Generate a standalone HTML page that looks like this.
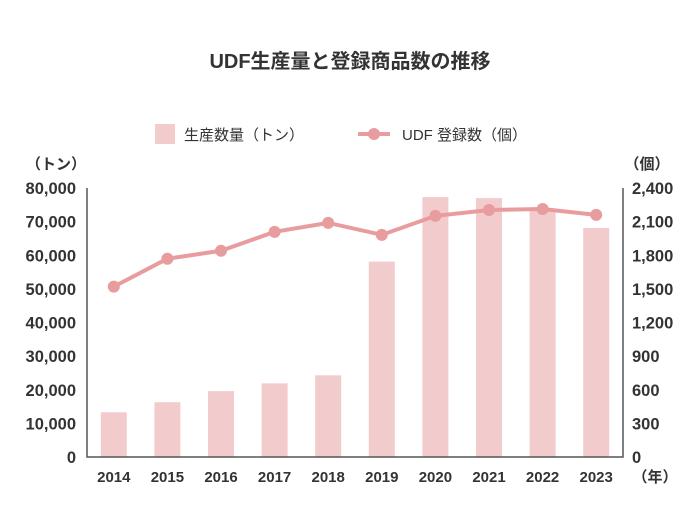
<!DOCTYPE html>
<html><head><meta charset="utf-8"><style>
body{margin:0;background:#fff;}
svg text{font-family:"Liberation Sans","Noto Sans CJK JP",sans-serif;fill:#333;}
</style></head><body>
<svg id="chart" width="700" height="525" viewBox="0 0 700 525" xmlns="http://www.w3.org/2000/svg">
<text x="350" y="68" text-anchor="middle" font-size="20" font-weight="bold">UDF生産量と登録商品数の推移</text>
<g>
<rect x="155" y="124" width="20" height="20" fill="#f2cccd"/>
<text x="184" y="140" font-size="15">生産数量（トン）</text>
<line x1="358" y1="134" x2="390" y2="134" stroke="#e89c9e" stroke-width="4"/>
<circle cx="374" cy="134" r="6" fill="#e89c9e"/>
<text x="402" y="140" font-size="15">UDF 登録数（個）</text>
</g>
<text x="56" y="169" text-anchor="middle" font-size="15" font-weight="bold">（トン）</text>
<text x="647" y="169" text-anchor="middle" font-size="15" font-weight="bold">（個）</text>
<text x="655" y="482" text-anchor="middle" font-size="15" font-weight="bold">（年）</text>
<g id="bars"></g><g id="line"></g><g id="axes"></g>
</svg>
<script>
const years=["2014","2015","2016","2017","2018","2019","2020","2021","2022","2023"];
const production=[13300,16300,19600,21900,24300,58100,77300,77000,73800,68100];
const registrations=[1520,1769,1840,2009,2089,1982,2151,2204,2213,2160];
const leftTicks=[0,10000,20000,30000,40000,50000,60000,70000,80000];
const rightTicks=[0,300,600,900,1200,1500,1800,2100,2400];
const NS="http://www.w3.org/2000/svg";
const x0=87,x1=623,y0=457,y1=188;
const yL=v=>y0-(v/80000)*(y0-y1);
const yR=v=>y0-(v/2400)*(y0-y1);
const band=(x1-x0)/years.length;
const xC=i=>x0+band*(i+0.5);
function mk(tag,attrs,parent){const e=document.createElementNS(NS,tag);for(const k in attrs)e.setAttribute(k,attrs[k]);parent.appendChild(e);return e;}
const gb=document.getElementById('bars'),gl=document.getElementById('line'),ga=document.getElementById('axes');
production.forEach((v,i)=>{
 const r=mk('rect',{x:xC(i)-13,y:yL(v),width:26,height:y0-yL(v),fill:'#f2cccd'},gb);
 
 
});
const pl=mk('polyline',{points:registrations.map((v,i)=>xC(i)+','+yR(v)).join(' '),fill:'none',stroke:'#e89c9e','stroke-width':4},gl);


registrations.forEach((v,i)=>{
 const c=mk('circle',{cx:xC(i),cy:yR(v),r:6,fill:'#e89c9e'},gl);
 
 
});
const la=mk('path',{d:`M${x0},${y1}V${y0}H${x1}V${y1}`,fill:'none',stroke:'#555','stroke-width':1.5},ga);


leftTicks.forEach(v=>{
 const t=mk('text',{x:76,y:yL(v)+6,'text-anchor':'end','font-size':16.5,'font-weight':'bold'},ga);
 t.textContent=v.toLocaleString('en-US');
 
 
});
rightTicks.forEach(v=>{
 const t=mk('text',{x:632,y:yR(v)+6,'text-anchor':'start','font-size':16.5,'font-weight':'bold'},ga);
 t.textContent=v.toLocaleString('en-US');
 
 
});
years.forEach((y,i)=>{
 const t=mk('text',{x:xC(i),y:482,'text-anchor':'middle','font-size':15,'font-weight':'bold'},ga);
 t.textContent=y;
 
 
});
</script>
</body></html>
